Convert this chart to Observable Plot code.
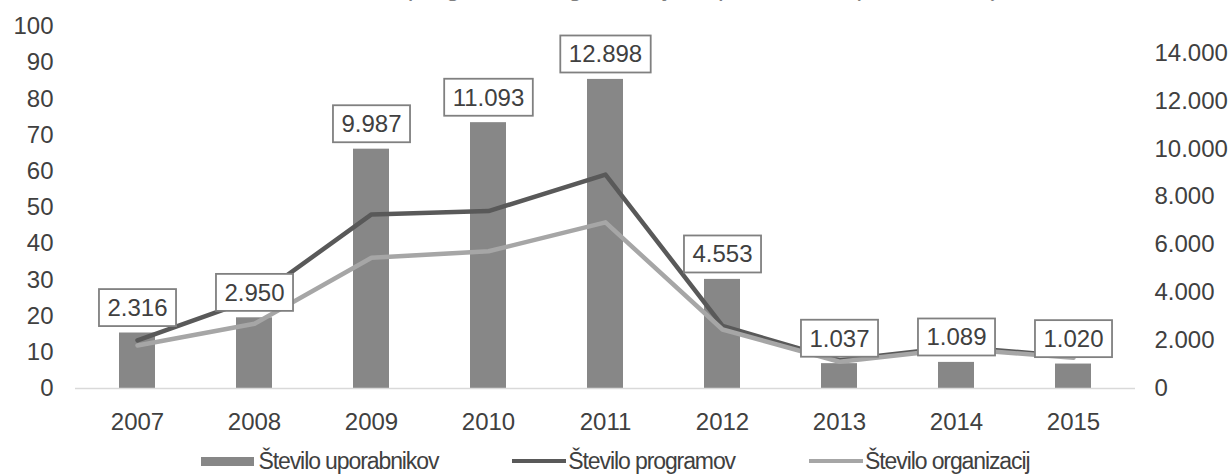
<!DOCTYPE html>
<html>
<head>
<meta charset="utf-8">
<script src="https://cdn.jsdelivr.net/npm/d3@7"></script>
<script src="https://cdn.jsdelivr.net/npm/@observablehq/plot@0.6"></script>
<style>
  body { margin: 0; background: #fff; font-family: "Liberation Sans", Arial, sans-serif; }
  #wrap { position: relative; width: 1230px; height: 474px; overflow: hidden; background: #fff; }
  #title { position: absolute; left: 0; top: 0; width: 1230px; height: 12px; overflow: hidden; z-index: 2; }
  #title span { position: absolute; right: 228px; top: -26px; font-style: italic; font-size: 26px; line-height: 26px; color: #7f7f7f; white-space: nowrap; }
  #chart svg { display: block; }
  #legend { display: flex; justify-content: center; align-items: center; height: 22px; padding-top: 18px; }
  #legend .item { display: flex; align-items: center; }
  #legend .item + .item { margin-left: 74px; }
  #legend .lt { font-size: 23px; line-height: 23px; letter-spacing: -1.1px; color: #404040; white-space: nowrap; }
</style>
</head>
<body>
<div id="wrap">
  <div id="title"><span>Število programov, organizacij in uporabnikov (2007–2015)</span></div>
  <div id="chart"></div>
  <div id="legend"></div>
</div>
<script>
// ---- data ----
const years = ["2007", "2008", "2009", "2010", "2011", "2012", "2013", "2014", "2015"];
const users = [2316, 2950, 9987, 11093, 12898, 4553, 1037, 1089, 1020];            // right axis (bars)
const programs = [13.3, 24.8, 48.1, 49.0, 59.1, 17.3, 7.8, 11.5, 8.8];            // left axis
const organizations = [11.9, 17.9, 36.1, 37.9, 45.9, 16.3, 7.4, 11.0, 8.5];       // left axis
const leftTicks = [0, 10, 20, 30, 40, 50, 60, 70, 80, 90, 100];
const rightTicks = [0, 2000, 4000, 6000, 8000, 10000, 12000, 14000];
const seriesNames = ["Število uporabnikov", "Število programov", "Število organizacij"];
const seriesColors = ["#878787", "#595959", "#a6a6a6"];

// conversion of the right-axis (users) values onto the left-axis scale
const k = 0.00662;

const fmt = d3.formatLocale({decimal: ",", thousands: ".", grouping: [3], currency: ["", "€"]}).format(",d");

const data = years.map((y, i) => ({year: y, users: users[i], programs: programs[i], organizations: organizations[i]}));

const plot = Plot.plot({
  width: 1230,
  height: 432,
  marginTop: 26,
  marginBottom: 44,
  marginLeft: 75,
  marginRight: 95,
  style: {fontFamily: '"Liberation Sans", Arial, sans-serif', fontSize: "24px", color: "#404040", background: "#fff", overflow: "visible"},
  x: {domain: years, paddingInner: 0.69, paddingOuter: 0.345},
  y: {domain: [0, 100]},
  marks: [
    Plot.barY(data, {x: "year", y: d => d.users * k, fill: seriesColors[0]}),
    Plot.ruleY([0], {stroke: "#d9d9d9", strokeWidth: 1.5}),
    Plot.line(data, {x: "year", y: "programs", stroke: seriesColors[1], strokeWidth: 4.5, strokeLinejoin: "round"}),
    Plot.line(data, {x: "year", y: "organizations", stroke: seriesColors[2], strokeWidth: 4.5, strokeLinejoin: "round"}),
    Plot.text(data, {x: "year", y: d => d.users * k, text: d => fmt(d.users), dy: -24.6, fontSize: 24, fill: "#404040"}),
    Plot.axisX({tickSize: 0, tickPadding: 24, fontSize: 24, label: null}),
    Plot.axisY({anchor: "left", ticks: leftTicks, tickFormat: d => String(d), tickSize: 0, tickPadding: 22, fontSize: 24, label: null}),
    Plot.axisY({anchor: "right", ticks: rightTicks.map(v => v * k), tickFormat: d => fmt(Math.round(d / k)), tickSize: 0, tickPadding: 19, fontSize: 24, label: null})
  ]
});
document.getElementById("chart").appendChild(plot);

// white boxes with grey border behind the data labels
const ns = "http://www.w3.org/2000/svg";
const labelTexts = new Set(users.map(v => fmt(v)));
plot.querySelectorAll("text").forEach(t => {
  if (!labelTexts.has(t.textContent)) return;
  const g = t.parentNode;
  if (!g || g.getAttribute("aria-label") !== "text") return;
  const b = t.getBBox();
  const cy = b.y + b.height / 2;
  const r = document.createElementNS(ns, "rect");
  r.setAttribute("x", b.x - 8.5);
  r.setAttribute("y", cy - 18.5);
  r.setAttribute("width", b.width + 17);
  r.setAttribute("height", 37);
  r.setAttribute("fill", "#fff");
  r.setAttribute("stroke", "#808080");
  r.setAttribute("stroke-width", 1.8);
  const tr = t.getAttribute("transform");
  if (tr) r.setAttribute("transform", tr);
  g.insertBefore(r, t);
});

// legend
const legend = document.getElementById("legend");
seriesNames.forEach((name, i) => {
  const item = document.createElement("div");
  item.className = "item";
  const sw = document.createElement("span");
  sw.style.display = "inline-block";
  sw.style.background = seriesColors[i];
  if (i === 0) { sw.style.width = "53px"; sw.style.height = "9px"; sw.style.marginRight = "5px"; }
  else { sw.style.width = "54px"; sw.style.height = "4.5px"; sw.style.marginRight = "2px"; }
  const lt = document.createElement("span");
  lt.className = "lt";
  lt.textContent = name;
  item.appendChild(sw);
  item.appendChild(lt);
  legend.appendChild(item);
});
</script>
</body>
</html>
